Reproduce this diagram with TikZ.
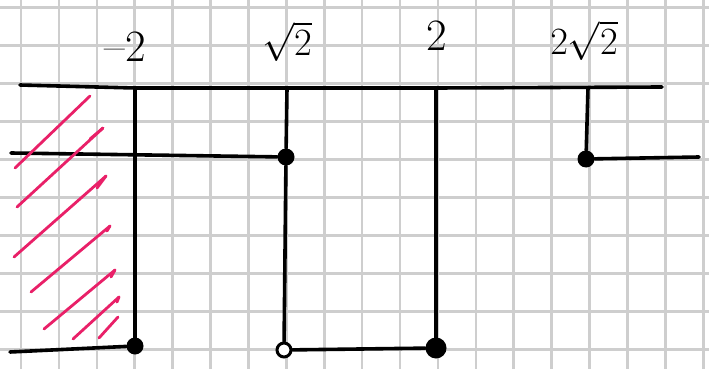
\documentclass[tikz,border=0pt]{standalone}
\usetikzlibrary{positioning}
\definecolor{gridgray}{RGB}{206,206,206}
\definecolor{hatchpink}{RGB}{233,32,104}
\newcommand{\biglbl}[1]{\scalebox{1.8}{#1}}
\newcommand{\rootlbl}[1]{\scalebox{1.55}{#1}}
\begin{document}
\begin{tikzpicture}[x=1pt,y=-1pt,
  gridline/.style={gridgray, line width=2.6pt},
  chart/.style={line width=3.6pt, line cap=round, line join=round},
  fdot/.style={circle, fill, inner sep=0pt, minimum size=17pt},
  bigdot/.style={fdot, minimum size=21pt},
  odot/.style={circle, draw, line width=3pt, fill=white, inner sep=0pt, minimum size=14pt},
  hatch/.style={hatchpink, line width=2.8pt, line cap=round},
  lbl/.style={font=\Huge, anchor=base, inner sep=0pt}]
  \useasboundingbox (0,0) rectangle (709,369);
  \fill[white] (0,0) rectangle (709,369);

  % grid paper
  \foreach \i in {0,...,18}
    \draw[gridline] ({21+37.9*\i},0) -- ({21+37.9*\i},369);
  \foreach \j in {0,...,9}
    \draw[gridline] (0,{7.5+38*\j}) -- (709,{7.5+38*\j});

  % labels
  \node[lbl] (lm2) at (125,62) {\biglbl{--2}};
  \node[lbl] (lr2) at (287,56) {\rootlbl{$\sqrt{2}$}};
  \node[lbl] (l2) at (437,51) {\biglbl{2}};
  \node[lbl] (l2r2) at (584,55) {\rootlbl{$2\sqrt{2}$}};

  % axis
  \coordinate (axL) at (20,85);
  \coordinate (axR) at (662,87);
  \coordinate (tm2) at (135,88);
  \coordinate (tr2) at (287,88);
  \coordinate (t2) at (436,88);
  \coordinate (t2r2) at (588,88);
  \draw[chart] (axL) -- (tm2) -- (tr2) -- (t2) -- (axR);

  % points
  \node[fdot] (dm2) at (135,346) {};
  \node[fdot] (dr2) at (286,157) {};
  \node[odot] (or2) at (284,350) {};
  \node[bigdot] (d2) at (436,348) {};
  \node[fdot] (d2r2) at (586,159) {};

  % free ends
  \coordinate (mL) at (11,153);
  \coordinate (bL) at (10,352);
  \coordinate (rR) at (699,157);

  % sign lines
  \draw[chart] (tm2) -- (dm2);
  \draw[chart] (tr2) -- (dr2);
  \draw[chart] (dr2) -- (or2);
  \draw[chart] (t2) -- (d2);
  \draw[chart] (t2r2) -- (d2r2);
  \draw[chart] (mL) -- (dr2);
  \draw[chart] (bL) -- (dm2);
  \draw[chart] (or2) -- (d2);
  \draw[chart] (d2r2) -- (rR);

  % hatching left of -2
  \foreach \ax/\ay/\bx/\by in {15/168/90/96, 17/207/103/128, 14/257/106/176,
      31/292/110/226, 44/329/115/270, 73/339/119/297, 99/338/118/317}
    \draw[hatch] (\ax,\ay) -- (\bx,\by);
  \foreach \ax/\ay/\bx/\by in {90/139/103/128, 97/188/106/176, 107/231/110/226,
      111/277/115/270, 117/302/119/297}
    \draw[hatch] (\ax,\ay) -- (\bx,\by);
\end{tikzpicture}
\end{document}
